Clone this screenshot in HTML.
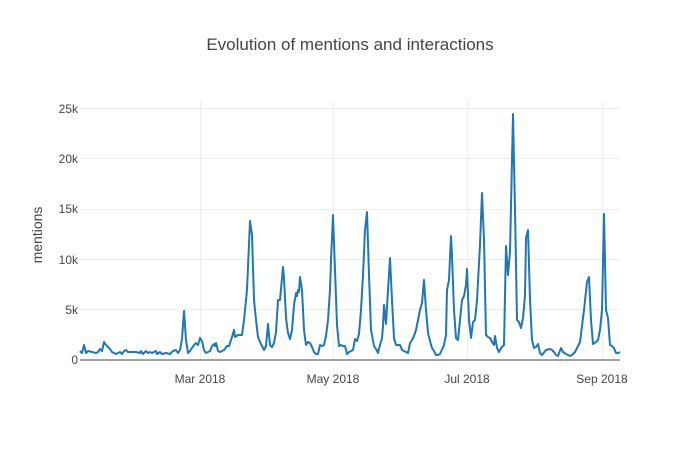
<!DOCTYPE html>
<html><head><style>body{margin:0;background:#fff}</style></head><body>
<svg width="700" height="450" xmlns="http://www.w3.org/2000/svg" font-family="Liberation Sans, sans-serif">
<rect width="700" height="450" fill="#fff"/>
<g stroke="#eee" stroke-width="1">
<line x1="80" x2="620" y1="108.5" y2="108.5"/><line x1="80" x2="620" y1="158.5" y2="158.5"/><line x1="80" x2="620" y1="209.5" y2="209.5"/><line x1="80" x2="620" y1="259.5" y2="259.5"/><line x1="80" x2="620" y1="309.5" y2="309.5"/>
<line x1="200.5" x2="200.5" y1="100" y2="360"/><line x1="333.5" x2="333.5" y1="100" y2="360"/><line x1="467.5" x2="467.5" y1="100" y2="360"/><line x1="602.5" x2="602.5" y1="100" y2="360"/>
</g>
<line x1="80" x2="620" y1="360" y2="360" stroke="#444" stroke-width="1"/>
<g font-size="12" fill="#444" text-anchor="end">
<text x="78" y="364">0</text><text x="78" y="314">5k</text><text x="78" y="264">10k</text><text x="78" y="213">15k</text><text x="78" y="163">20k</text><text x="78" y="113">25k</text>
</g>
<g font-size="12" fill="#444" text-anchor="middle">
<text x="200" y="383">Mar 2018</text><text x="333" y="383">May 2018</text><text x="467" y="383">Jul 2018</text><text x="602" y="383">Sep 2018</text>
</g>
<text x="350" y="50" font-size="17" fill="#444" text-anchor="middle">Evolution of mentions and interactions</text>
<text transform="translate(42,235) rotate(-90)" font-size="14" fill="#444" text-anchor="middle">mentions</text>
<polyline fill="none" stroke="#1f77b4" stroke-width="2" stroke-linejoin="round" points="80,351 82,353 84,345 86,353 88,351 92,352 96,353 98,352 100,349 102,351 104,342 106,345 110,349 112,352 116,354 118,353 120,352 122,354 124,351 126,350 128,352 132,352 136,352 140,353 141,351 143,354 146,351 148,353 150,352 152,353 156,351 157,354 160,352 162,354 166,353 170,354 173,351 176,350 178,353 180,350 182,339 184,311 186,340 188,353 190,351 194,345 196,343 198,345 200,338 202,341 204,350 206,353 210,351 212,346 214,344 215,346 216,343 218,351 220,352 224,350 227,346 229,346 232,337 234,330 235,337 238,335 240,335 242,335 244,320 247,290 250,221 252,235 254,300 256,320 258,337 260,342 262,346 264,350 266,346 268,324 270,345 272,347 274,343 276,332 278,300 280,300 283,267 284,278 286,318 288,333 290,339 292,330 294,305 296,293 297,296 298,290 299,292 300,277 302,290 304,330 306,345 308,342 310,343 312,347 314,352 316,354 318,354 320,345 322,346 324,345 326,336 328,320 330,290 331,260 333,215 335,270 337,325 339,346 341,345 343,346 345,346 347,354 349,352 351,351 353,350 355,339 357,341 359,334 361,310 363,275 365,230 367,212 369,275 371,330 374,346 376,349 378,353 380,345 382,338 383,326 384,305 386,324 388,290 390,258 392,300 394,338 396,345 400,345 402,350 404,351 406,352 408,353 410,343 412,340 414,336 416,330 418,320 420,310 422,303 424,280 426,310 428,333 430,341 432,348 434,351 436,355 438,355 440,354 444,345 446,335 447,290 449,280 451,236 452,256 454,310 456,338 458,340 462,300 464,296 466,285 467,269 469,320 471,338 473,322 475,320 477,300 480,245 482,193 484,240 486,335 488,337 490,338 492,342 494,345 495,336 497,348 499,352 501,348 504,345 506,246 508,275 510,252 513,114 515,210 517,320 519,322 521,328 523,318 525,295 526,238 528,230 530,300 532,340 534,348 536,347 538,344 540,353 542,355 546,350 550,349 552,350 554,352 556,355 558,356 561,348 563,352 566,354 570,356 572,355 575,352 580,342 584,310 587,282 589,277 591,320 593,344 596,342 598,340 600,330 602,310 604,214 606,310 608,318 610,345 612,346 614,348 616,353 618,353 620,352"/>
</svg>
</body></html>
